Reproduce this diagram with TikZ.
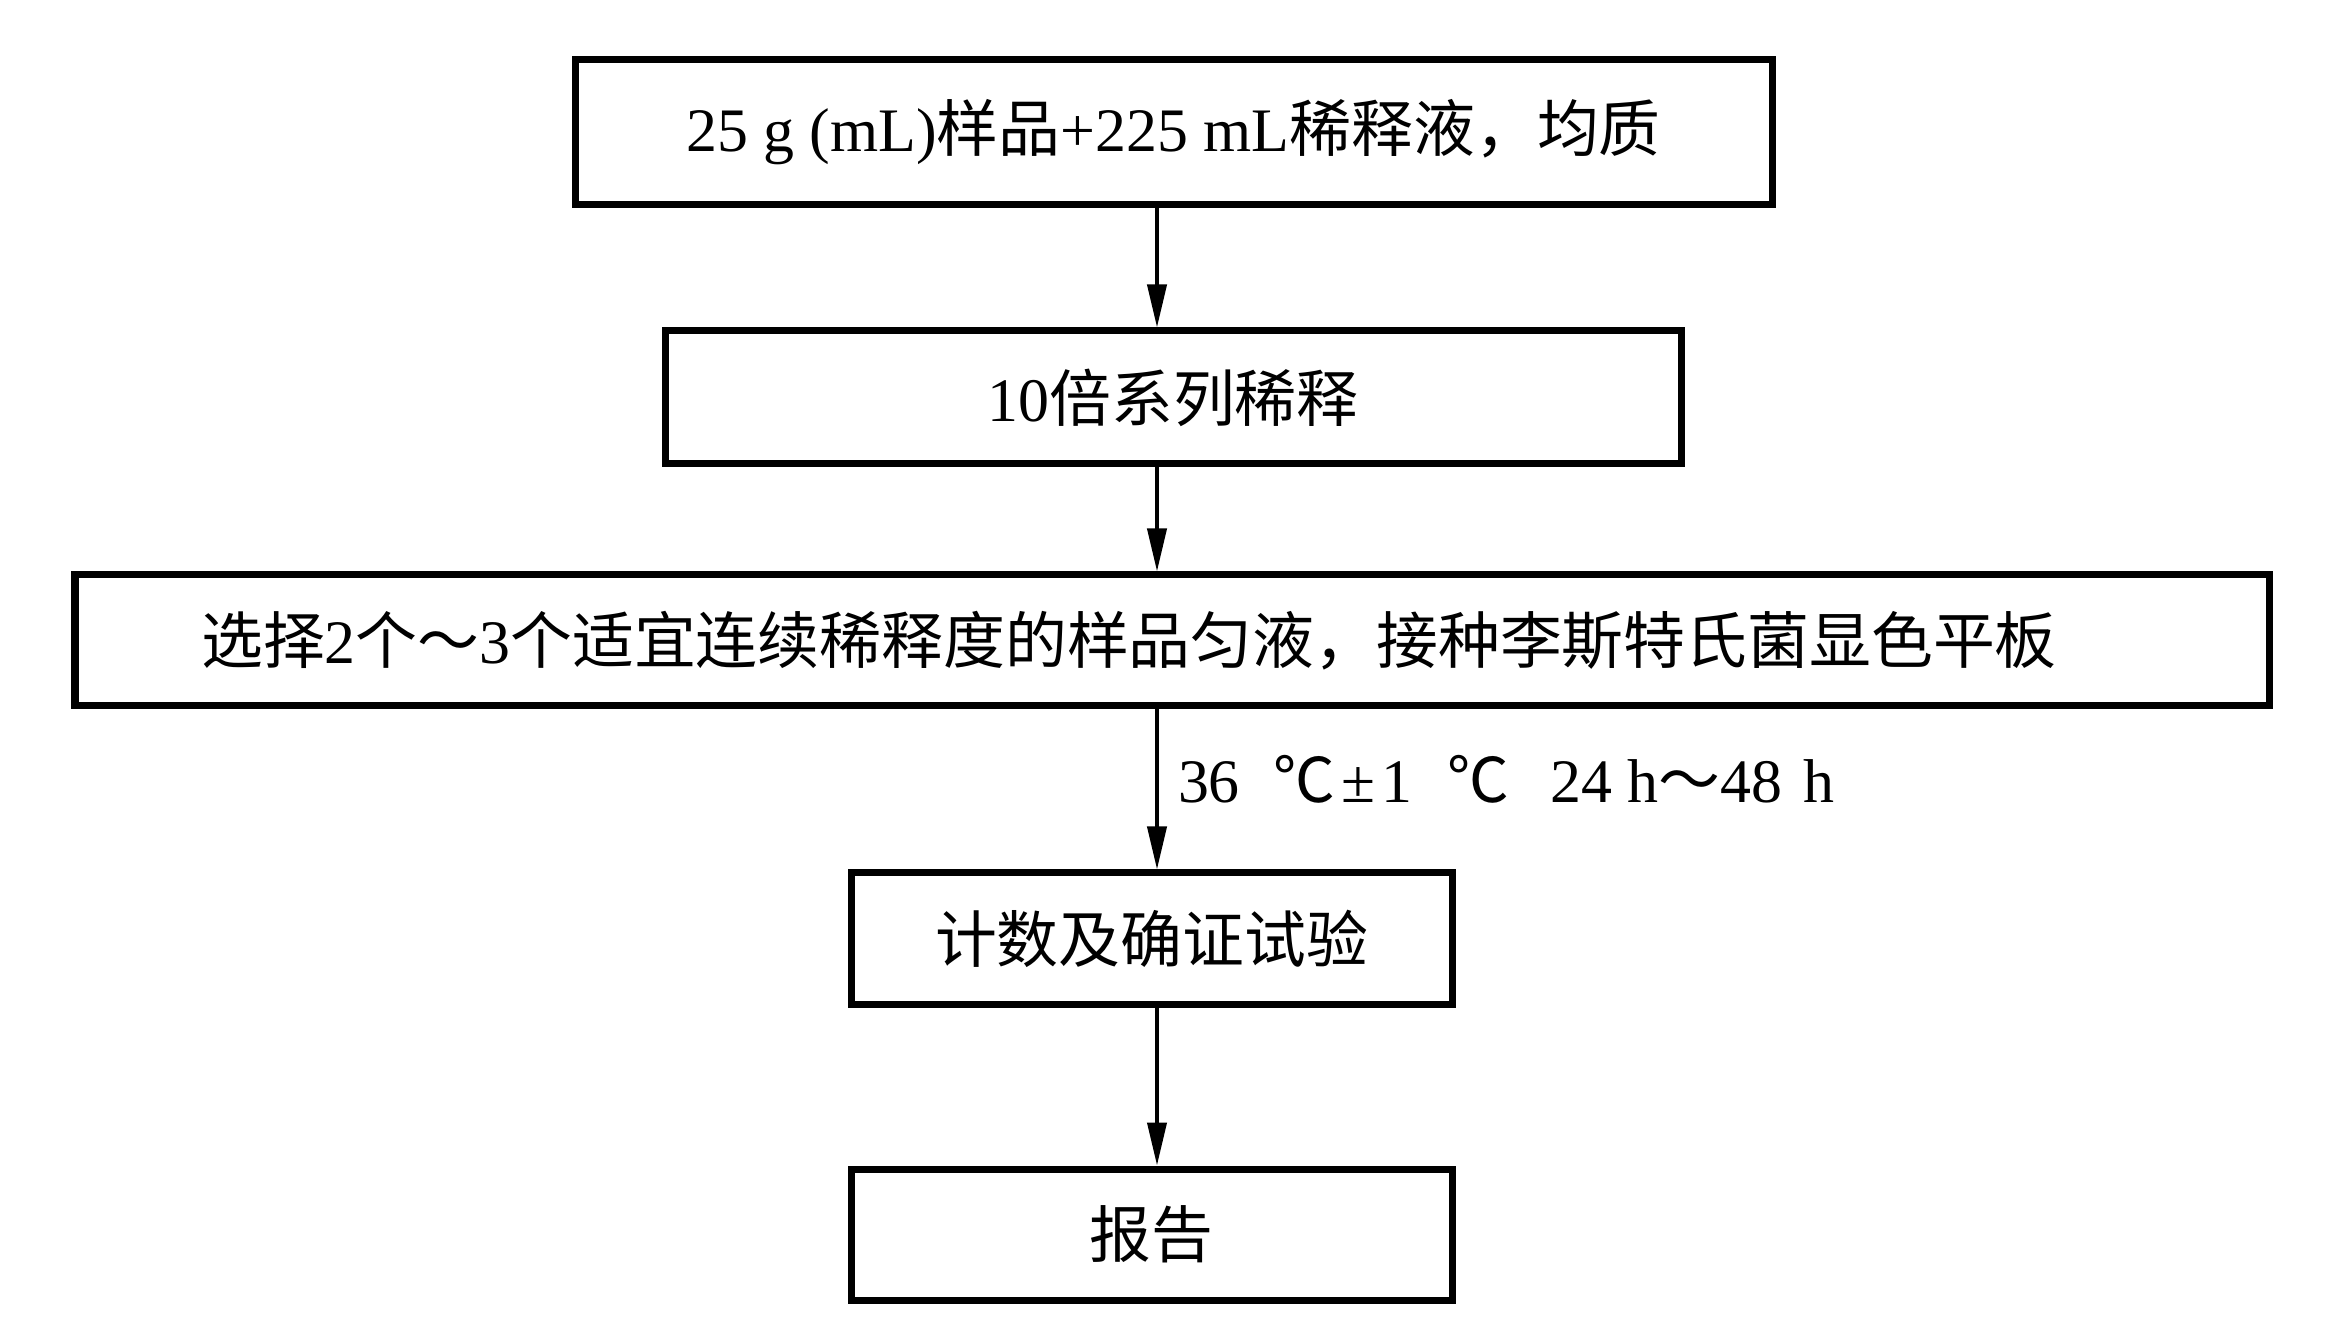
\documentclass[tikz,border=0pt]{standalone}
\usepackage{fontspec}
\setmainfont{Liberation Serif}
\newfontfamily\cjk{Noto Sans CJK SC}
\usetikzlibrary{arrows.meta}

\begin{document}
\begin{tikzpicture}[
  box/.style={draw, line width=0.07cm, inner sep=0pt, font=\fontsize{17.6pt}{21pt}\selectfont},
  arr/.style={line width=0.04cm, -{Triangle[length=0.43cm,width=0.19cm]}}]
\useasboundingbox (0,0) rectangle (23.4,-13.4);

\node[box, minimum width=11.97cm, minimum height=1.45cm] (mix) at (11.735,-1.325)
  {25 g (mL){\cjk 样品}+225 mL{\cjk 稀释液，均质}};
\node[box, minimum width=10.16cm, minimum height=1.33cm] (dil) at (11.73,-3.975)
  {10{\cjk 倍系列稀释}};
\node[box, minimum width=21.94cm, minimum height=1.31cm] (plate) at (11.72,-6.405)
  {{\cjk 选择}2{\cjk 个～}3{\cjk 个适宜连续稀释度的样品匀液，接种李斯特氏菌显色平板}\kern0.86cm};
\node[box, minimum width=6.01cm, minimum height=1.31cm] (count) at (11.515,-9.385)
  {\cjk 计数及确证试验};
\node[box, minimum width=6.01cm, minimum height=1.31cm] (report) at (11.515,-12.345)
  {\cjk 报告};

\coordinate (axis) at (11.57,0);
\draw[arr] (mix.south -| axis) -- (dil.north -| axis);
\draw[arr] (dil.south -| axis) -- (plate.north -| axis);
\draw[arr] (plate.south -| axis) -- node[pos=0.58, anchor=base west, inner sep=0pt, xshift=0.19cm,
  font=\fontsize{17.6pt}{21pt}\selectfont]
  {36\hspace{0.335cm}{\cjk ℃}\hspace{0.06cm}±\hspace{0.06cm}1\hspace{0.355cm}{\cjk ℃}\hspace{0.41cm}24 h{\cjk ～}48\hspace{0.215cm}h}
  (count.north -| axis);
\draw[arr] (count.south -| axis) -- (report.north -| axis);
\end{tikzpicture}
\end{document}
